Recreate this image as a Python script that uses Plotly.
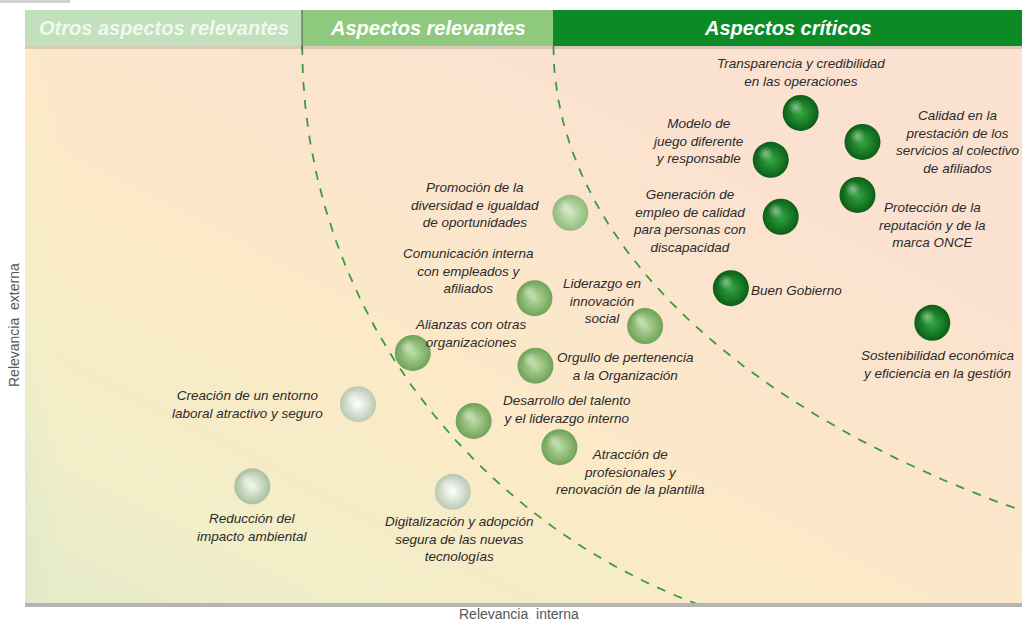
import numpy as np
import plotly.graph_objects as go

# Materiality matrix: relevancia interna (x) vs relevancia externa (y), 0-10 scale
aspectos = [
    "Transparencia y credibilidad<br>en las operaciones",
    "Calidad en la<br>prestación de los<br>servicios al colectivo<br>de afiliados",
    "Modelo de<br>juego diferente<br>y responsable",
    "Protección de la<br>reputación y de la<br>marca ONCE",
    "Generación de<br>empleo de calidad<br>para personas con<br>discapacidad",
    "Buen Gobierno",
    "Sostenibilidad económica<br>y eficiencia en la gestión",
    "Promoción de la<br>diversidad e igualdad<br>de oportunidades",
    "Comunicación interna<br>con empleados y<br>afiliados",
    "Liderazgo en<br>innovación<br>social",
    "Alianzas con otras<br>organizaciones",
    "Orgullo de pertenencia<br>a la Organización",
    "Creación de un entorno<br>laboral atractivo y seguro",
    "Desarrollo del talento<br>y el liderazgo interno",
    "Atracción de<br>profesionales y<br>renovación de la plantilla",
    "Reducción del<br>impacto ambiental",
    "Digitalización y adopción<br>segura de las nuevas<br>tecnologías",
]
relevancia_interna = [7.78, 8.40, 7.48, 8.35, 7.58, 7.08, 9.10, 5.47, 5.11, 6.22,
                      3.89, 5.12, 3.34, 4.50, 5.36, 2.28, 4.29]
relevancia_externa = [8.80, 8.28, 7.96, 7.33, 6.94, 5.66, 5.04, 7.01, 5.48, 4.98,
                      4.50, 4.27, 3.58, 3.28, 2.81, 2.11, 2.01]
grupo = ["critico"] * 7 + ["relevante_claro", "relevante", "relevante", "relevante", "relevante",
                           "otro", "relevante", "relevante", "otro_verde", "otro"]

cabeceras = ["Otros aspectos relevantes", "Aspectos relevantes", "Aspectos críticos"]

# styling
edge_col = {"critico": "#0a5f15", "relevante_claro": "#8fbb7a", "relevante": "#6fa257",
            "otro": "#b9c9b1", "otro_verde": "#a9c09f"}
core_col = {"critico": "#34a844", "relevante_claro": "#d2e8c2", "relevante": "#bcdca6",
            "otro": "#ffffff", "otro_verde": "#f4f9ee"}
# label offsets in px (dx right, dy up)
label_dx = [0, 96, -73, 75, -91, 66, 6, -95, -66, -43, 58, 90, -111, 93, 71, 0, 7]
label_dy = [40, 0, 19, -30, -4, -2, -42, 8, 27, 25, 19, -1, 0, 11, -25, -41, -47]

FONT = "Liberation Sans, Arial"
W, H = 1022, 622
L, R, T, B = 25, 1022, 46, 604
px_x = (R - L) / 10.0
px_y = (B - T) / 10.0

fig = go.Figure()

# background gradient
gx = np.linspace(0, 10, 60)
gy = np.linspace(0, 10, 40)
GX, GY = np.meshgrid(gx, gy)
Z = np.clip(0.055 * GX + 0.06 * GY + 0.12 * np.minimum(GX * 3, 1), 0, 1)
fig.add_trace(go.Heatmap(x=gx, y=gy, z=Z, zsmooth="best", showscale=False, hoverinfo="skip",
                         zmin=0, zmax=1,
                         colorscale=[[0, "#dde9ca"], [0.3, "#f1eec8"], [0.55, "#fbeac6"],
                                     [0.8, "#fbe5cc"], [1, "#fbe2d0"]]))

# dashed boundaries (ellipse arcs, vertical at the top edge)
def arco(x0, a, b):
    t = np.linspace(0, np.pi / 2, 200)
    xs = x0 + a - a * np.cos(t)
    ys = 10 - b * np.sin(t)
    return xs, ys

for x0, a, b in [(2.78, 6.25, 10.75), (5.30, 10.64, 10.04)]:
    xs, ys = arco(x0, a, b)
    fig.add_trace(go.Scatter(x=xs, y=ys, mode="lines", hoverinfo="skip",
                             line=dict(color="#3f9a3f", width=1.8, dash="dash")))

# spheres
fig.add_trace(go.Scatter(
    x=relevancia_interna, y=relevancia_externa, mode="markers", hoverinfo="text",
    text=aspectos,
    marker=dict(size=36, color=[edge_col[g] for g in grupo], line=dict(width=0),
                gradient=dict(type="radial", color=[core_col[g] for g in grupo])),
))
# highlight
fig.add_trace(go.Scatter(
    x=[v - 5 / px_x for v in relevancia_interna],
    y=[v + 6 / px_y for v in relevancia_externa], mode="markers", hoverinfo="skip",
    marker=dict(size=16, color="rgba(255,255,255,0)", line=dict(width=0),
                gradient=dict(type="radial", color="rgba(255,255,255,0.45)")),
))

for txt, x, y, dx, dy in zip(aspectos, relevancia_interna, relevancia_externa, label_dx, label_dy):
    fig.add_annotation(x=x, y=y, xref="x", yref="y", text="<i>" + txt + "</i>", showarrow=False,
                       xshift=dx, yshift=dy, align="center", xanchor="center", yanchor="middle",
                       font=dict(size=13.5, color="#2b2b2b", family=FONT))

# header
def py(p):
    return 1 - p / H

head_x = [(25, 302, "#c0e1bb", "#f1f8ee"), (302, 553, "#8fc97e", "#ffffff"), (553, 1022, "#0b8a25", "#ffffff")]
shapes = []
for (x0, x1, fill, tc), name in zip(head_x, cabeceras):
    shapes.append(dict(type="rect", xref="paper", yref="paper", x0=x0 / W, x1=x1 / W,
                       y0=py(46), y1=py(10), fillcolor=fill, line=dict(width=0), layer="above"))
    fig.add_annotation(x=(x0 + x1) / 2 / W, y=py(28), xref="paper", yref="paper",
                       xanchor="center", yanchor="middle",
                       text="<b><i>" + name + "</i></b>", showarrow=False,
                       font=dict(size=20, color=tc, family=FONT))
shapes.append(dict(type="rect", xref="paper", yref="paper", x0=25 / W, x1=1, y0=py(49), y1=py(46),
                   fillcolor="rgba(120,120,120,0.25)", line=dict(width=0), layer="above"))
shapes.append(dict(type="line", xref="paper", yref="paper", x0=302 / W, x1=302 / W, y0=py(50), y1=py(10),
                   line=dict(color="#555555", width=1), layer="above"))
# bottom axis line and small top-left bar
shapes.append(dict(type="rect", xref="paper", yref="paper", x0=25 / W, x1=1, y0=py(607), y1=py(603),
                   fillcolor="#b4b4b4", line=dict(width=0), layer="above"))
shapes.append(dict(type="rect", xref="paper", yref="paper", x0=0, x1=70 / W, y0=py(3), y1=1,
                   fillcolor="#d0d0d0", line=dict(width=0)))

fig.add_annotation(x=14 / W, y=py(325), xref="paper", yref="paper", text="Relevancia  externa",
                   textangle=-90, showarrow=False, xanchor="center", yanchor="middle",
                   font=dict(size=14, color="#555555", family=FONT))
fig.add_annotation(x=519 / W, y=py(614), xref="paper", yref="paper", text="Relevancia  interna",
                   showarrow=False, xanchor="center", yanchor="middle",
                   font=dict(size=14, color="#555555", family=FONT))

fig.update_layout(
    width=W, height=H, margin=dict(l=0, r=0, t=0, b=0),
    paper_bgcolor="white", plot_bgcolor="white", showlegend=False, shapes=shapes,
    xaxis=dict(domain=[L / W, 1], range=[0, 10], visible=False, fixedrange=True),
    yaxis=dict(domain=[1 - B / H, 1 - T / H], range=[0, 10], visible=False, fixedrange=True),
)

fig.write_html("out.html", config={"displayModeBar": False},
               post_script="document.body.style.margin='0';")
